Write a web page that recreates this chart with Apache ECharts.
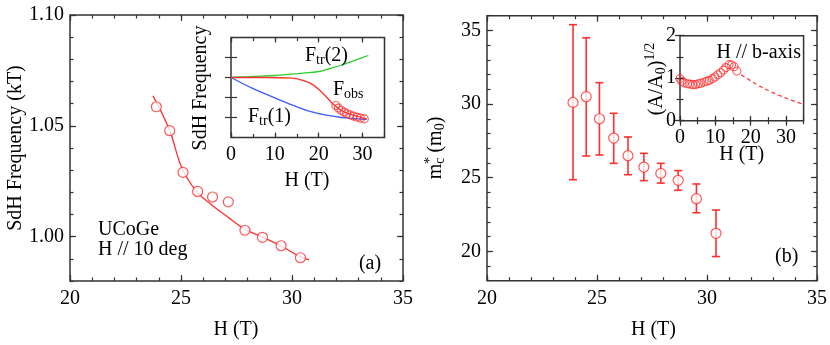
<!DOCTYPE html>
<html>
<head>
<meta charset="utf-8">
<script src="https://cdn.jsdelivr.net/npm/echarts@6/dist/echarts.min.js"></script>
<style>
  html, body { margin: 0; padding: 0; background: #fff; }
  #chart { width: 830px; height: 345px; }
</style>
</head>
<body>
<div id="chart"></div>
<script>
// (a) SdH frequency vs field, UCoGe H // 10 deg
const freqH = [23.89, 24.49, 25.09, 25.75, 26.42, 27.13, 27.88, 28.67, 29.51, 30.38];
const freqF = [1.0586, 1.0478, 1.0290, 1.0204, 1.0179, 1.0157, 1.0029, 0.9997, 0.9959, 0.9905];
const fitH = [23.74, 24.48, 25.05, 25.72, 26.40, 27.14, 27.89, 28.67, 29.51, 30.40, 30.77];
const fitF = [1.0635, 1.0481, 1.0308, 1.0202, 1.0142, 1.0086, 1.0033, 0.9998, 0.9958, 0.9908, 0.9896];

// (a) inset, arbitrary units
const tr2H = [0, 5, 10, 16.5, 20, 22.6, 25, 27.1, 29, 31.3];
const tr2F = [3.0, 3.05, 3.1, 3.22, 3.3, 3.45, 3.6, 3.77, 3.92, 4.1];
const obsH = [0, 8, 14, 16.9, 18.8, 21, 22.9, 23.7, 25.2, 27, 29, 31];
const obsF = [3.0, 3.0, 2.97, 2.82, 2.62, 2.2, 1.75, 1.6, 1.35, 1.18, 1.05, 0.92];
const tr1H = [0, 4.8, 10.1, 13.9, 17.6, 21.4, 25.2, 28, 30.9];
const tr1F = [3.0, 2.47, 1.97, 1.63, 1.33, 1.13, 1.0, 0.95, 0.9];
const insetH = [23.9, 24.5, 25.1, 25.8, 26.4, 27.1, 27.9, 28.7, 29.5, 30.4];
const insetF = [1.6, 1.47, 1.36, 1.27, 1.2, 1.13, 1.07, 1.02, 0.97, 0.93];

// (b) effective mass with error bars
const massH = [23.91, 24.51, 25.11, 25.76, 26.41, 27.13, 27.90, 28.69, 29.52, 30.41];
const mass = [30.11, 30.5, 29.0, 27.69, 26.49, 25.72, 25.29, 24.82, 23.57, 21.22];
const massHi = [35.39, 34.5, 31.45, 29.37, 27.76, 26.65, 25.97, 25.48, 24.57, 22.8];
const massLo = [24.86, 26.47, 26.54, 25.97, 25.2, 24.8, 24.63, 24.14, 22.62, 19.64];

// (b) inset, H // b-axis
const ampH = [0, 0.5, 1.2, 2.1, 2.8, 3.6, 4.4, 5.2, 5.9, 6.8, 7.6, 8.3, 9.2, 9.9, 10.7, 11.5, 12.3, 13.0, 13.9, 14.6, 15.3, 16.1];
const amp = [0.99, 0.93, 0.89, 0.87, 0.86, 0.85, 0.85, 0.87, 0.88, 0.91, 0.93, 0.95, 0.99, 1.03, 1.08, 1.13, 1.19, 1.25, 1.32, 1.31, 1.27, 1.17];
const ampFitH = [17.3, 20, 22, 25.5, 28, 31, 35];
const ampFit = [1.08, 0.94, 0.84, 0.69, 0.6, 0.5, 0.38];

const FONT = '"Liberation Serif", "Times New Roman", serif';
const RED = '#ff3030';

const zip = (a, b) => a.map((v, i) => [v, b[i]]);

const xAxis = [];
const yAxis = [];

// builds the frame axes for one grid: major ticks (+labels) and minor ticks, on both sides
function addAxes(list, dim, grid, min, max, majors, minorStep, labelled, fmt, margin, majorLen) {
  const first = list.length;
  const sides = dim === 'x' ? ['bottom', 'top'] : ['left', 'right'];
  sides.forEach((pos, k) => {
    list.push({
      type: 'value', gridIndex: grid, position: pos, min: min, max: max,
      axisLine: { show: false }, splitLine: { show: false },
      axisTick: { show: true, inside: true, length: majorLen || 6, customValues: majors,
        lineStyle: { color: '#333', width: 1.2 } },
      axisLabel: { show: labelled && k === 0, customValues: majors, margin: margin,
        color: '#000', fontFamily: FONT, fontSize: 20, formatter: fmt }
    });
    if (minorStep) {
      list.push({
        type: 'value', gridIndex: grid, position: pos, min: min, max: max, interval: minorStep,
        axisLine: { show: false }, splitLine: { show: false },
        axisTick: { show: true, inside: true, length: 3.5, lineStyle: { color: '#333', width: 1.2 } },
        axisLabel: { show: false }
      });
    }
  });
  return first;
}

const plain = v => String(v);

const xa = addAxes(xAxis, 'x', 0, 20, 35, [20, 25, 30, 35], 1, true, plain, 8);
const ya = addAxes(yAxis, 'y', 0, 0.98, 1.10, [1.00, 1.05, 1.10], 0.01, true, v => v.toFixed(2), 6);
const xai = addAxes(xAxis, 'x', 1, 0, 35, [0, 10, 20, 30], 5, true, plain, 7, 5);
const yai = addAxes(yAxis, 'y', 1, 0, 5, [1, 2, 3, 4], 0, false, plain, 4, 6);
const xb = addAxes(xAxis, 'x', 2, 20, 35, [20, 25, 30, 35], 1, true, plain, 8);
const yb = addAxes(yAxis, 'y', 2, 18, 36, [20, 25, 30, 35], 1, true, plain, 6);
const xbi = addAxes(xAxis, 'x', 3, 0, 35, [0, 10, 20, 30], 5, true, plain, 7, 5);
const ybi = addAxes(yAxis, 'y', 3, 0, 2, [0, 1, 2], 0.5, true, plain, 4, 5);

const frame = { show: true, borderColor: '#333', borderWidth: 1.5, backgroundColor: 'transparent' };

function txt(text, x, y, opts) {
  return Object.assign({
    type: 'text', x: x, y: y, z: 10,
    style: Object.assign({ text: text, font: '20px ' + FONT, fill: '#000',
      textAlign: 'left', textVerticalAlign: 'middle' }, (opts && opts.style) || {})
  }, (opts && opts.el) || {});
}

const base = { fontSize: 20, fontFamily: FONT, color: '#000' };
const sub = { fontSize: 14, fontFamily: FONT, color: '#000', padding: [9, 0, 0, 0] };
const sup = { fontSize: 14, fontFamily: FONT, color: '#000', padding: [0, 0, 14, 0] };

function richTxt(text, x, y, align, rotation) {
  return {
    type: 'text', x: x, y: y, z: 10, rotation: rotation || 0,
    style: { text: text, rich: { f: base, s: sub, p: sup },
      textAlign: align, textVerticalAlign: 'middle' }
  };
}

const option = {
  animation: false,
  backgroundColor: '#fff',
  grid: [
    Object.assign({ left: 70, top: 15, width: 333, height: 266 }, frame),
    Object.assign({ left: 231, top: 37.5, width: 153.5, height: 100 }, frame),
    Object.assign({ left: 487, top: 15.7, width: 333, height: 265 }, frame),
    Object.assign({ left: 680, top: 35.7, width: 123.6, height: 85 }, frame)
  ],
  xAxis: xAxis,
  yAxis: yAxis,
  series: [
    // (a) main
    { type: 'line', xAxisIndex: xa, yAxisIndex: ya, data: zip(fitH, fitF), smooth: 0.4,
      showSymbol: false, lineStyle: { color: RED, width: 1.3 } },
    { type: 'scatter', xAxisIndex: xa, yAxisIndex: ya, data: zip(freqH, freqF), symbol: 'circle',
      symbolSize: 10, itemStyle: { color: '#fff', borderColor: RED, borderWidth: 1.2 }, z: 3 },
    // (a) inset
    { type: 'line', xAxisIndex: xai, yAxisIndex: yai, data: zip(tr2H, tr2F), smooth: 0.4,
      showSymbol: false, lineStyle: { color: '#2ecc2e', width: 1.3 } },
    { type: 'line', xAxisIndex: xai, yAxisIndex: yai, data: zip(tr1H, tr1F), smooth: 0.4,
      showSymbol: false, lineStyle: { color: '#3a5cff', width: 1.3 } },
    { type: 'line', xAxisIndex: xai, yAxisIndex: yai, data: zip(obsH, obsF), smooth: 0.4,
      showSymbol: false, lineStyle: { color: RED, width: 1.3 } },
    { type: 'scatter', xAxisIndex: xai, yAxisIndex: yai, data: zip(insetH, insetF), symbol: 'circle',
      symbolSize: 8, itemStyle: { color: 'rgba(255,255,255,0)', borderColor: RED, borderWidth: 1.1 }, z: 3 },
    // (b) error bars
    { type: 'custom', xAxisIndex: xb, yAxisIndex: yb,
      data: massH.map((h, i) => [h, massLo[i], massHi[i]]),
      renderItem: function (params, api) {
        const h = api.value(0);
        const lo = api.coord([h, api.value(1)]);
        const hi = api.coord([h, api.value(2)]);
        const w = 4;
        const st = { stroke: RED, lineWidth: 1.6 };
        return { type: 'group', children: [
          { type: 'line', shape: { x1: lo[0], y1: lo[1], x2: hi[0], y2: hi[1] }, style: st },
          { type: 'line', shape: { x1: lo[0] - w, y1: lo[1], x2: lo[0] + w, y2: lo[1] }, style: st },
          { type: 'line', shape: { x1: hi[0] - w, y1: hi[1], x2: hi[0] + w, y2: hi[1] }, style: st }
        ] };
      }, z: 2 },
    { type: 'scatter', xAxisIndex: xb, yAxisIndex: yb, data: zip(massH, mass), symbol: 'circle',
      symbolSize: 10, itemStyle: { color: '#fff', borderColor: RED, borderWidth: 1.2 }, z: 4 },
    // (b) inset
    { type: 'line', xAxisIndex: xbi, yAxisIndex: ybi, data: zip(ampFitH, ampFit), smooth: 0.4,
      showSymbol: false, lineStyle: { color: RED, width: 1.2, type: [4, 3] } },
    { type: 'scatter', xAxisIndex: xbi, yAxisIndex: ybi, data: zip(ampH, amp), symbol: 'circle',
      symbolSize: 8, itemStyle: { color: 'rgba(255,255,255,0)', borderColor: RED, borderWidth: 1.1 }, z: 3 }
  ],
  graphic: [
    txt('SdH Frequency (kT)', 16, 148, { style: { textAlign: 'center' }, el: { rotation: Math.PI / 2 } }),
    txt('H (T)', 236, 330, { style: { textAlign: 'center' } }),
    txt('UCoGe', 98, 230),
    txt('H // 10 deg', 98, 250),
    txt('(a)', 370, 264, { style: { textAlign: 'center' } }),
    txt('SdH Frequency', 200.5, 88, { style: { textAlign: 'center' }, el: { rotation: Math.PI / 2 } }),
    txt('H (T)', 307, 181, { style: { textAlign: 'center' } }),
    richTxt('{f|F}{s|tr}{f|(2)}', 305, 56, 'left'),
    richTxt('{f|F}{s|obs}', 333, 90, 'left'),
    richTxt('{f|F}{s|tr}{f|(1)}', 248, 117, 'left'),
    txt('H (T)', 653.5, 330, { style: { textAlign: 'center' } }),
    txt('(b)', 786.7, 257, { style: { textAlign: 'center' } }),
    {
      type: 'group', x: 436, y: 148, rotation: Math.PI / 2,
      children: [
        { type: 'text', x: 0, y: 0, style: { text: '{f|m}{s|c}{f| (m}{s|0}{f|)}',
          rich: { f: base, s: sub }, textAlign: 'center', textVerticalAlign: 'middle' } },
        { type: 'text', x: -16, y: -6, style: { text: '*', font: '14px ' + FONT, fill: '#000',
          textAlign: 'left', textVerticalAlign: 'middle' } }
      ]
    },
    richTxt('{f|(A/A}{s|0}{f|)}{p|1/2}', 657, 79, 'center', Math.PI / 2),
    txt('H (T)', 741.7, 155, { style: { textAlign: 'center' } }),
    txt('H // b-axis', 716.5, 53)
  ]
};

const chart = echarts.init(document.getElementById('chart'));
chart.setOption(option);
</script>
</body>
</html>
